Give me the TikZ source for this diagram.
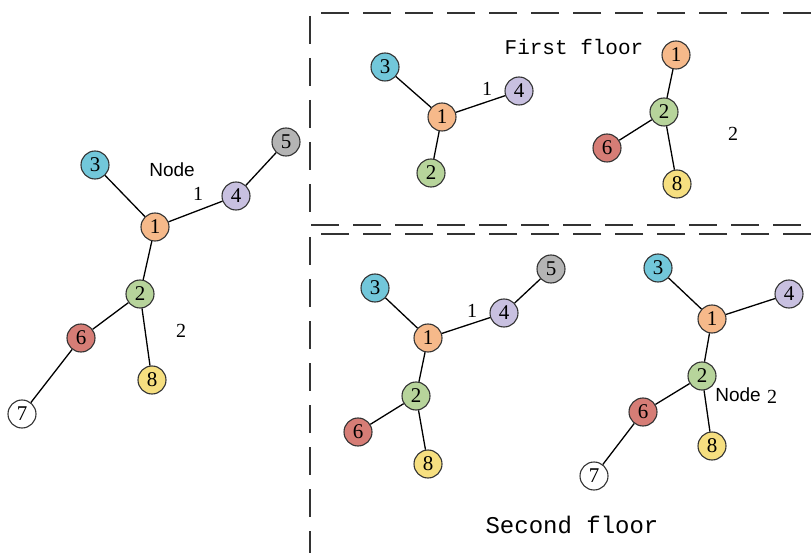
\documentclass[tikz,border=0pt]{standalone}
\usepackage{fontspec}
\setmainfont{Liberation Serif}
\setsansfont{Liberation Sans}
\setmonofont{Liberation Mono}
\definecolor{cone}{HTML}{F6B98A}
\definecolor{ctwo}{HTML}{B7D49B}
\definecolor{cthree}{HTML}{72C7DA}
\definecolor{cfour}{HTML}{C8C0E0}
\definecolor{cfive}{HTML}{B4B4B4}
\definecolor{csix}{HTML}{D67D76}
\definecolor{ceight}{HTML}{F6DF80}
\begin{document}
\begin{tikzpicture}[x=1pt, y=-1pt, line width=1.3pt, main node/.style={circle,draw=black!80,line width=1.1pt,minimum size=28pt,inner sep=0pt,font=\fontsize{21}{21}\selectfont},box line/.style={line width=1.4pt,black!80,dash pattern=on 28pt off 14pt},lbl/.style={font=\fontsize{20}{20}\selectfont}]
\useasboundingbox (0,0) rectangle (811,553);
%left tree
\begin{scope}
\node[main node,fill=cone] (l1) at (155,227) {1};
\node[main node,fill=ctwo] (l2) at (140,294) {2};
\node[main node,fill=cthree] (l3) at (95,165) {3};
\node[main node,fill=cfour] (l4) at (236,196) {4};
\node[main node,fill=cfive] (l5) at (286,142) {5};
\node[main node,fill=csix] (l6) at (81,338) {6};
\node[main node,fill=white] (l7) at (22,414) {7};
\node[main node,fill=ceight] (l8) at (152,380) {8};
\node[font=\sffamily\fontsize{19}{19}\selectfont] (lnode) at (172,170) {Node};
\node[lbl] (lone) at (198,194) {1};
\node[lbl] (ltwo) at (181,331) {2};
\end{scope}
\begin{scope}
\draw (l3) edge (l1);
\draw (l1) edge (l4);
\draw (l4) edge (l5);
\draw (l1) edge (l2);
\draw (l2) edge (l6);
\draw (l6) edge (l7);
\draw (l2) edge (l8);
\end{scope}
%first floor
\draw[box line] (811,13) -- (310,13) -- (310,225) -- (811,225);
\node[font=\ttfamily\fontsize{21}{21}\selectfont] (ffloor) at (574,47) {First floor};
\begin{scope}
\node[main node,fill=cone] (a1) at (442,117) {1};
\node[main node,fill=ctwo] (a2) at (431,173) {2};
\node[main node,fill=cthree] (a3) at (385,67) {3};
\node[main node,fill=cfour] (a4) at (519,91) {4};
\node[lbl] (aone) at (487,89) {1};
\node[main node,fill=cone] (b1) at (676,55) {1};
\node[main node,fill=ctwo] (b2) at (664,112) {2};
\node[main node,fill=csix] (b6) at (607,148) {6};
\node[main node,fill=ceight] (b8) at (677,184) {8};
\node[lbl] (btwo) at (733,134) {2};
\end{scope}
\begin{scope}
\draw (a3) edge (a1);
\draw (a1) edge (a4);
\draw (a1) edge (a2);
\draw (b1) edge (b2);
\draw (b2) edge (b6);
\draw (b2) edge (b8);
\end{scope}
%second floor
\draw[box line] (811,234) -- (310,234) -- (310,553);
\node[font=\ttfamily\fontsize{24}{24}\selectfont] (sfloor) at (572,525) {Second floor};
\begin{scope}
\node[main node,fill=cone] (c1) at (428,338) {1};
\node[main node,fill=ctwo] (c2) at (416,396) {2};
\node[main node,fill=cthree] (c3) at (375,288) {3};
\node[main node,fill=cfour] (c4) at (504,313) {4};
\node[main node,fill=cfive] (c5) at (551,269) {5};
\node[main node,fill=csix] (c6) at (358,432) {6};
\node[main node,fill=ceight] (c8) at (428,464) {8};
\node[lbl] (cone) at (472,311) {1};
\node[main node,fill=cone] (d1) at (712,319) {1};
\node[main node,fill=ctwo] (d2) at (702,376) {2};
\node[main node,fill=cthree] (d3) at (658,268) {3};
\node[main node,fill=cfour] (d4) at (789,294) {4};
\node[main node,fill=csix] (d6) at (643,412) {6};
\node[main node,fill=white] (d7) at (594,476) {7};
\node[main node,fill=ceight] (d8) at (712,446) {8};
\node[font=\sffamily\fontsize{19}{19}\selectfont] (dnode) at (738,395) {Node};
\node[lbl] (dtwo) at (772,397) {2};
\end{scope}
\begin{scope}
\draw (c3) edge (c1);
\draw (c1) edge (c4);
\draw (c4) edge (c5);
\draw (c1) edge (c2);
\draw (c2) edge (c6);
\draw (c2) edge (c8);
\draw (d3) edge (d1);
\draw (d1) edge (d4);
\draw (d1) edge (d2);
\draw (d2) edge (d6);
\draw (d6) edge (d7);
\draw (d2) edge (d8);
\end{scope}
\end{tikzpicture}
\end{document}
